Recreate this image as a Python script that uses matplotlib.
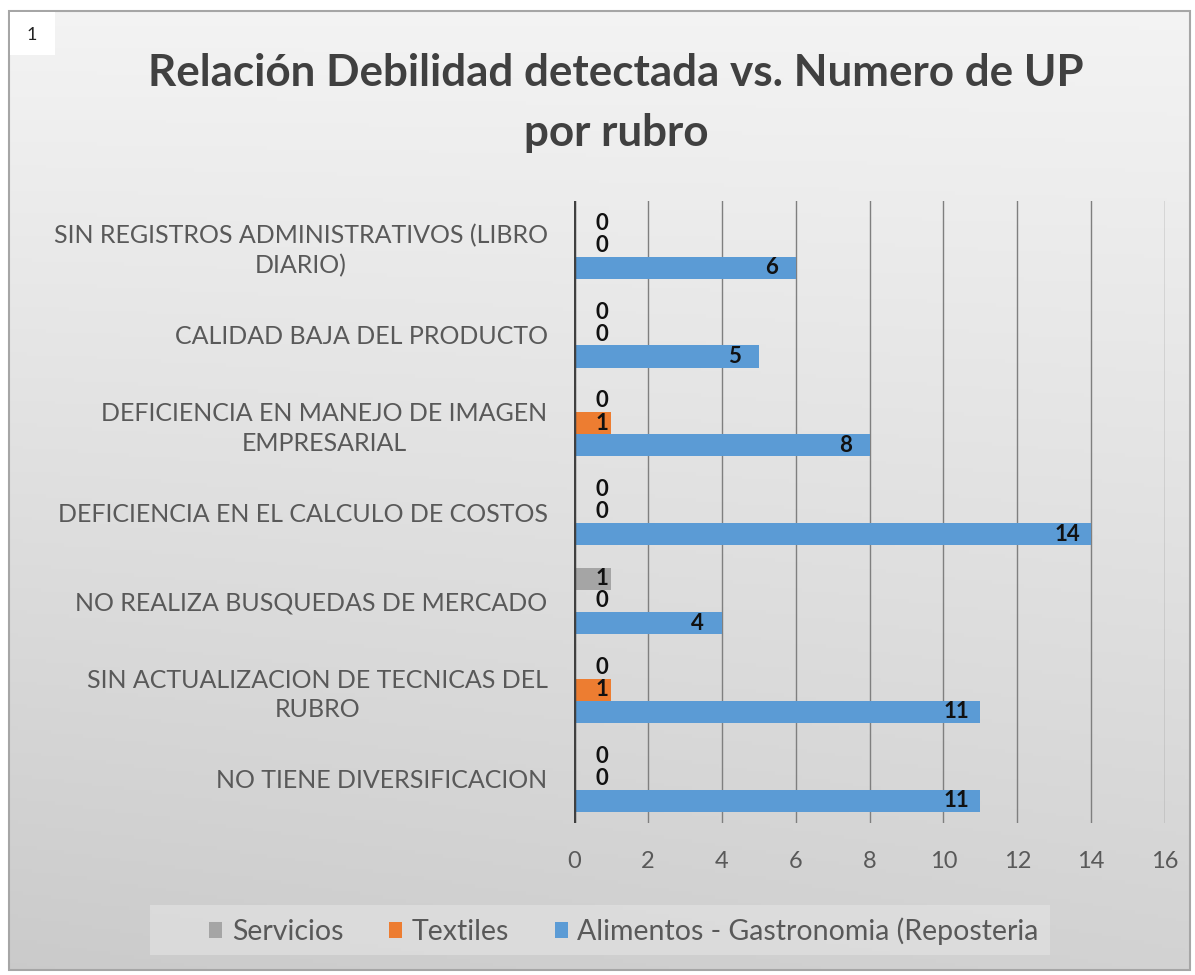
import matplotlib
matplotlib.use("Agg")
import matplotlib.pyplot as plt
import numpy as np
from matplotlib.patches import Rectangle, Patch

categories = [
    "SIN REGISTROS ADMINISTRATIVOS (LIBRO\nDIARIO)",
    "CALIDAD BAJA DEL PRODUCTO",
    "DEFICIENCIA EN MANEJO DE IMAGEN\nEMPRESARIAL",
    "DEFICIENCIA EN EL CALCULO DE COSTOS",
    "NO REALIZA BUSQUEDAS DE MERCADO",
    "SIN ACTUALIZACION DE TECNICAS DEL\nRUBRO",
    "NO TIENE DIVERSIFICACION",
]
series_names = ["Servicios", "Textiles", "Alimentos - Gastronomia (Reposteria"]
servicios = [0, 0, 0, 0, 1, 0, 0]
textiles = [0, 0, 1, 0, 0, 1, 0]
alimentos = [6, 5, 8, 14, 4, 11, 11]
xticks = [0, 2, 4, 6, 8, 10, 12, 14, 16]
title = "Relación Debilidad detectada vs. Numero de UP\npor rubro"

colors = ["#A5A5A5", "#ED7D31", "#5B9BD5"]
FONT = "Lato"

W, H = 1195, 975
fig = plt.figure(figsize=(W / 100, H / 100), dpi=100)
fig.patch.set_facecolor("white")

# background gradient panel
bg = fig.add_axes([0, 0, 1, 1], zorder=-2)
bg.set_xlim(0, W)
bg.set_ylim(H, 0)
bg.axis("off")
yy = np.linspace(0, 1, 256)[:, None]
xx = np.linspace(0, 1, 256)[None, :]
grad = 0.955 - 0.13 * yy - 0.03 * (1 - xx) * yy
grad = np.clip(grad, 0, 1)
bg.imshow(np.dstack([grad, grad, grad]), extent=[9, 1190, 970, 11], aspect="auto", zorder=0)
bg.add_patch(Rectangle((9, 11), 1181, 959, fill=False, ec="#a6a6a6", lw=1.5, zorder=2))
# legend subtle box
bg.add_patch(Rectangle((150, 905), 900, 50, fc="#e4e4e4", ec="none", alpha=0.6, zorder=1))
# number box
bg.add_patch(Rectangle((10, 12), 45, 43, fc="white", ec="none", zorder=3))
bg.text(32, 35, "1", ha="center", va="center", fontsize=13, family=FONT, color="#222222", zorder=4)

ax = fig.add_axes([574 / W, 1 - 823 / H, (1165 - 574) / W, (823 - 201) / H])
ax.set_facecolor("none")

n = len(categories)
y = np.arange(n)
h = 0.25
series = [servicios, textiles, alimentos]
offsets = [-h, 0, h]
for vals, off, c in zip(series, offsets, colors):
    ax.barh(y + off, vals, height=h, color=c, zorder=3)
    for yi, v in zip(y, vals):
        xc = max(v - 0.65, 0.75)
        ax.text(xc, yi + off, str(v), ha="center", va="center", fontsize=16,
                fontweight="bold", family=FONT, color="#111111", zorder=5)

ax.set_ylim(n - 0.5, -0.5)
ax.set_xlim(0, 16)
ax.set_xticks(xticks)
ax.set_xticklabels([str(t) for t in xticks])
for t in xticks[1:]:
    ax.axvline(t, color="#7f7f7f", lw=1.0, zorder=1)
ax.axvline(0, color="#404040", lw=2.5, zorder=6)
for s in ax.spines.values():
    s.set_visible(False)
ax.tick_params(axis="x", length=0, pad=20, labelsize=17, labelcolor="#595959")
ax.tick_params(axis="y", length=0, pad=19, labelsize=18, labelcolor="#595959")
ax.set_yticks(y)
ax.set_yticklabels(categories, multialignment="center", linespacing=1.35)
for lab in ax.get_xticklabels() + ax.get_yticklabels():
    lab.set_family(FONT)

fig.text(616 / W, 1 - 103 / H, title, ha="center", va="center", fontsize=31.7,
         fontweight="bold", family=FONT, color="#404040", linespacing=1.6)

handles = [Patch(facecolor=c, edgecolor="none") for c in colors]
leg = fig.legend(handles, series_names, loc="center", bbox_to_anchor=(624 / W, 1 - 931 / H),
                 ncol=3, frameon=False, handlelength=0.45, handleheight=0.5,
                 handletextpad=0.35, columnspacing=1.6,
                 prop={"family": FONT, "size": 20.5})
for t in leg.get_texts():
    t.set_color("#595959")

fig.savefig("out.png", dpi=100)
